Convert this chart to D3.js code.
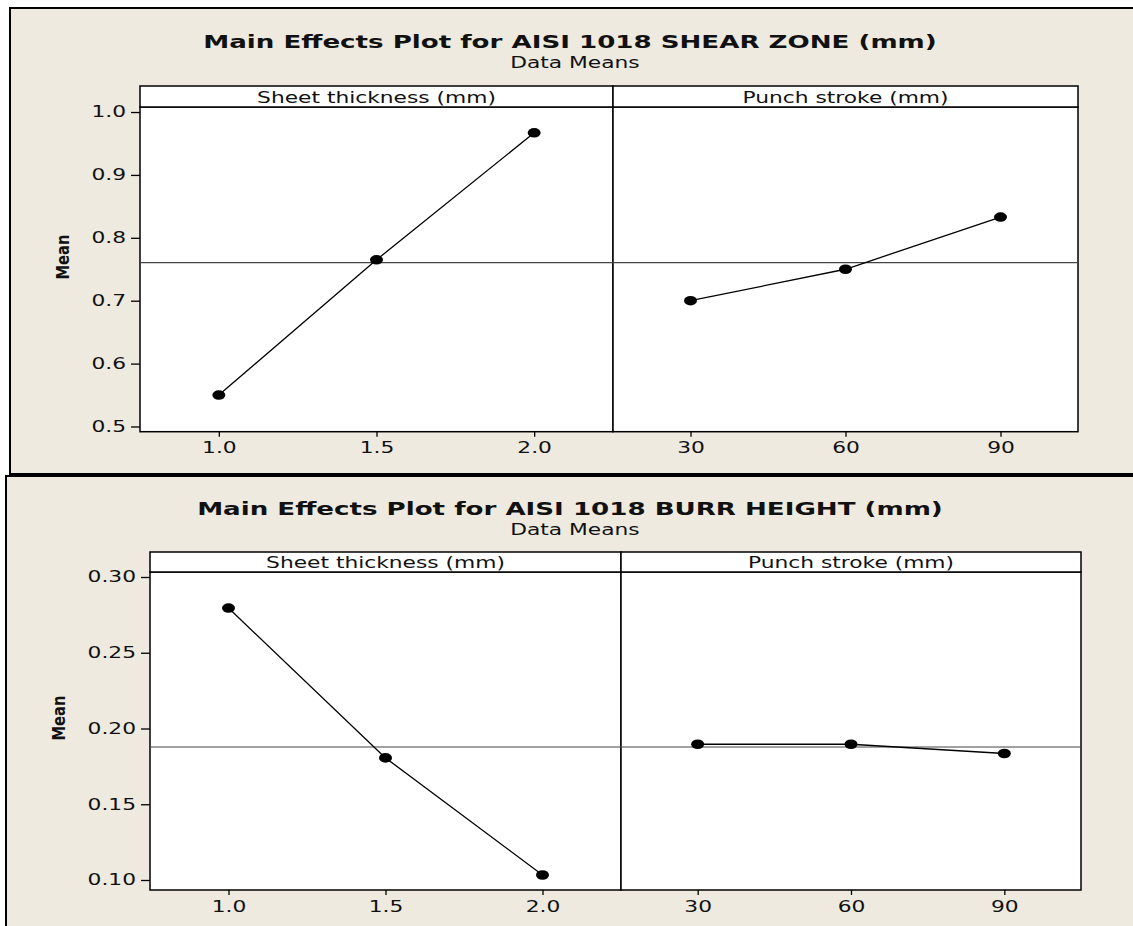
<!DOCTYPE html>
<html>
<head>
<meta charset="utf-8">
<script src="https://cdn.jsdelivr.net/npm/d3@7"></script>
<style>
  body { margin: 0; background: #fff; }
  text { font-family: "DejaVu Sans", Verdana, sans-serif; fill: #111; }
</style>
</head>
<body>
<div class="chart"></div>
<script>
var w = 1133;
var h = 926;

// factor levels
var thicknessLevels = [1.0, 1.5, 2.0];
var strokeLevels = [30, 60, 90];

// data means
var shearThickness = [0.550, 0.765, 0.967];
var shearStroke = [0.700, 0.750, 0.833];
var burrThickness = [0.2795, 0.1806, 0.1033];
var burrStroke = [0.1896, 0.1896, 0.1835];

// tick labels
var shearTicks = [0.5, 0.6, 0.7, 0.8, 0.9, 1.0];
var burrTicks = [0.10, 0.15, 0.20, 0.25, 0.30];
var thicknessTicks = [1.0, 1.5, 2.0];
var strokeTicks = [30, 60, 90];

var k = 1.45; // minitab text is drawn wide

var svg = d3.select(".chart").append("svg")
  .attr("width", w)
  .attr("height", h);

function stretch(sel, f) {
  sel.each(function() {
    var tw = this.getComputedTextLength();
    d3.select(this).attr("textLength", tw * f).attr("lengthAdjust", "spacingAndGlyphs");
  });
}

function drawChart(c) {
  var g = svg.append("g");

  g.append("rect")
    .attr("x", c.frame[0]).attr("y", c.frame[1])
    .attr("width", c.frame[2]).attr("height", c.frame[3])
    .attr("fill", "#eeeae0")
    .attr("stroke", "#000")
    .attr("stroke-width", 2);

  var t = g.append("text")
    .attr("x", c.titleX).attr("y", c.titleY)
    .attr("text-anchor", "middle")
    .style("font-size", "18px").style("font-weight", "bold")
    .text(c.title);
  stretch(t, k);

  var st = g.append("text")
    .attr("x", c.titleX + 5).attr("y", c.titleY + 20)
    .attr("text-anchor", "middle")
    .style("font-size", "15px")
    .text("Data Means");
  stretch(st, k);

  var yScale = d3.scaleLinear().domain(c.yDomain).range([c.bottom, c.top]);

  var x1 = d3.scaleLinear().domain([0.75, 2.25]).range([c.left, c.mid]);
  var x2 = d3.scaleLinear().domain([15, 105]).range([c.mid, c.right]);

  // panels + strips
  [[c.left, c.mid, "Sheet thickness (mm)"], [c.mid, c.right, "Punch stroke (mm)"]].forEach(function(p) {
    g.append("rect")
      .attr("x", p[0]).attr("y", c.top)
      .attr("width", p[1] - p[0]).attr("height", c.bottom - c.top)
      .attr("fill", "#fff").attr("stroke", "#000").attr("stroke-width", 1.5);
    g.append("rect")
      .attr("x", p[0]).attr("y", c.stripTop)
      .attr("width", p[1] - p[0]).attr("height", c.top - c.stripTop)
      .attr("fill", "#fff").attr("stroke", "#000").attr("stroke-width", 1.5);
    var lab = g.append("text")
      .attr("x", (p[0] + p[1]) / 2).attr("y", c.top - 4.5)
      .attr("text-anchor", "middle")
      .style("font-size", "15px")
      .text(p[2]);
    stretch(lab, k);
  });

  // grand mean reference line
  var grand = d3.mean(c.a);
  g.append("line")
    .attr("x1", c.left).attr("x2", c.right)
    .attr("y1", yScale(grand)).attr("y2", yScale(grand))
    .attr("stroke", "#444").attr("stroke-width", 1.2);

  var yAxis = d3.axisLeft(yScale)
    .tickValues(c.yTicks)
    .tickFormat(d3.format(c.fmt))
    .tickSize(9).tickSizeOuter(0).tickPadding(5);
  var ya = g.append("g")
    .attr("transform", "translate(" + c.left + ",0)")
    .call(yAxis);

  var xa1 = g.append("g")
    .attr("transform", "translate(0," + c.bottom + ")")
    .call(d3.axisBottom(x1).tickValues(thicknessTicks).tickFormat(d3.format(".1f"))
      .tickSize(5).tickSizeOuter(0).tickPadding(6));
  var xa2 = g.append("g")
    .attr("transform", "translate(0," + c.bottom + ")")
    .call(d3.axisBottom(x2).tickValues(strokeTicks).tickFormat(d3.format("d"))
      .tickSize(5).tickSizeOuter(0).tickPadding(6));

  [ya, xa1, xa2].forEach(function(ax) {
    ax.select(".domain").remove();
    ax.selectAll("line").attr("stroke", "#000").attr("stroke-width", 1.3);
    ax.selectAll("text")
      .style("font-size", "15px")
      .style("font-family", "DejaVu Sans, sans-serif")
      .attr("fill", "#111");
    stretch(ax.selectAll("text"), k);
  });

  var ylab = g.append("text")
    .attr("transform", "translate(" + c.ylabX + "," + c.ylabY + ") rotate(-90)")
    .attr("text-anchor", "middle")
    .attr("dy", "0.35em")
    .style("font-size", "18px").style("font-weight", "bold")
    .text("Mean");
  stretch(ylab, 0.82);

  var line = d3.line()
    .x(function(d) { return d[0]; })
    .y(function(d) { return d[1]; });

  var s1 = thicknessLevels.map(function(v, i) { return [x1(v), yScale(c.a[i])]; });
  var s2 = strokeLevels.map(function(v, i) { return [x2(v), yScale(c.b[i])]; });

  [s1, s2].forEach(function(s) {
    g.append("path")
      .attr("d", line(s))
      .attr("fill", "none")
      .attr("stroke", "#000")
      .attr("stroke-width", 1.3);
    g.selectAll(null)
      .data(s)
      .enter()
      .append("ellipse")
      .attr("cx", function(d) { return d[0]; })
      .attr("cy", function(d) { return d[1]; })
      .attr("rx", 6.5)
      .attr("ry", 4.8)
      .attr("fill", "#000");
  });
}

drawChart({
  frame: [10, 8, 1140, 466],
  title: "Main Effects Plot for AISI 1018 SHEAR ZONE (mm)",
  titleX: 570, titleY: 48,
  stripTop: 86, top: 107, bottom: 431.7,
  left: 140, mid: 613, right: 1078,
  yDomain: [0.4917, 1.008],
  yTicks: shearTicks, fmt: ".1f",
  ylabX: 63, ylabY: 257,
  a: shearThickness, b: shearStroke
});

drawChart({
  frame: [6, 476, 1145, 470],
  title: "Main Effects Plot for AISI 1018 BURR HEIGHT (mm)",
  titleX: 570, titleY: 515,
  stripTop: 552, top: 572, bottom: 890,
  left: 150, mid: 621, right: 1081,
  yDomain: [0.0934, 0.3033],
  yTicks: burrTicks, fmt: ".2f",
  ylabX: 59, ylabY: 718,
  a: burrThickness, b: burrStroke
});
</script>
</body>
</html>
